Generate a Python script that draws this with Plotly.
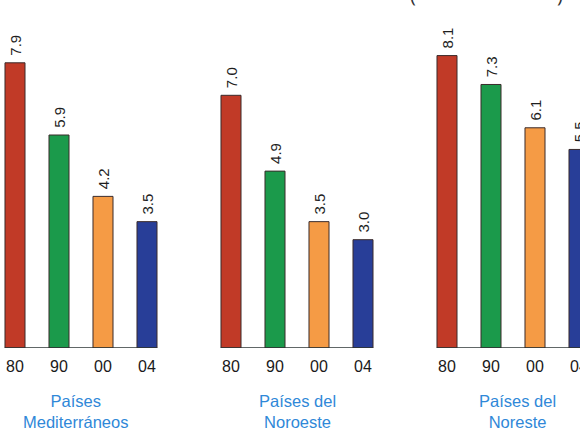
import plotly.graph_objects as go

# ---- data ----
years = ["80", "90", "00", "04"]
group_names = ["Países<br>Mediterráneos", "Países del<br>Noroeste", "Países del<br>Noreste"]
med_values = [7.9, 5.9, 4.2, 3.5]
noroeste_values = [7.0, 4.9, 3.5, 3.0]
noreste_values = [8.1, 7.3, 6.1, 5.5]

bar_colors = ["#c13a27", "#1b9a4b", "#f59b45", "#283e98"]

series = [med_values, noroeste_values, noreste_values]
axes = ["x", "x2", "x3"]

# pixel layout helpers (styling only)
W, H = 580, 431
B = 83
PLOT_H = H - B
px_per_cat = 44.0
first_centers = [15, 231, 447]
label_shift = [-6, 0, 4]
label_center_px = 411.5

FONT = "Liberation Sans, Arial, Helvetica"

fig = go.Figure()
for vals, ax in zip(series, axes):
    fig.add_trace(go.Bar(
        x=years, y=vals, xaxis=ax, yaxis="y",
        width=0.455,
        marker=dict(color=bar_colors, line=dict(color="#3a2b2b", width=1)),
        texttemplate="\u00a0%{y:.1f}", textposition="outside", textangle=-90,
        textfont=dict(size=15, color="#1e1e1e", family=FONT),
        constraintext="none", cliponaxis=False, showlegend=False,
    ))

layout_axes = {}
for i, (ax, c0) in enumerate(zip(axes, first_centers)):
    r0 = -c0 / px_per_cat
    r1 = r0 + W / px_per_cat
    name = "xaxis" if ax == "x" else "xaxis" + ax[1:]
    layout_axes[name] = dict(
        type="category", categoryorder="array", categoryarray=years,
        domain=[0, 1], anchor="y", range=[r0, r1], automargin=False,
        showgrid=False, zeroline=False, showline=False, ticks="",
        ticklabelstandoff=7,
        tickfont=dict(size=16, color="#1a1a1a", family=FONT),
    )
    fig.add_shape(type="line", xref=ax, yref="y", x0=-0.23, x1=3.23, y0=0, y1=0,
                  line=dict(color="#2c3535", width=1.5), layer="above")
    fig.add_annotation(text=group_names[i], xref=ax, yref="paper", x=1.5,
                       y=(PLOT_H - label_center_px) / PLOT_H,
                       xshift=label_shift[i], showarrow=False, yanchor="middle",
                       font=dict(size=16.5, color="#2f88d8", family=FONT))

fig.add_annotation(text="(", xref="paper", yref="paper", x=418 / W, y=1, yanchor="bottom",
                   yshift=-10, showarrow=False, font=dict(size=20, color="#333333"))
fig.add_annotation(text=")", xref="paper", yref="paper", x=565 / W, y=1, yanchor="bottom",
                   yshift=-10, showarrow=False, font=dict(size=20, color="#333333"))

fig.update_layout(
    width=W, height=H,
    margin=dict(l=0, r=0, t=0, b=B),
    paper_bgcolor="white", plot_bgcolor="rgba(0,0,0,0)",
    yaxis=dict(range=[0, 9.64], visible=False, fixedrange=True, automargin=False),
)
fig.update_layout(**layout_axes)

fig.write_html("out.html", config={"displayModeBar": False},
               post_script="document.body.style.margin='0';document.body.style.padding='0';")
